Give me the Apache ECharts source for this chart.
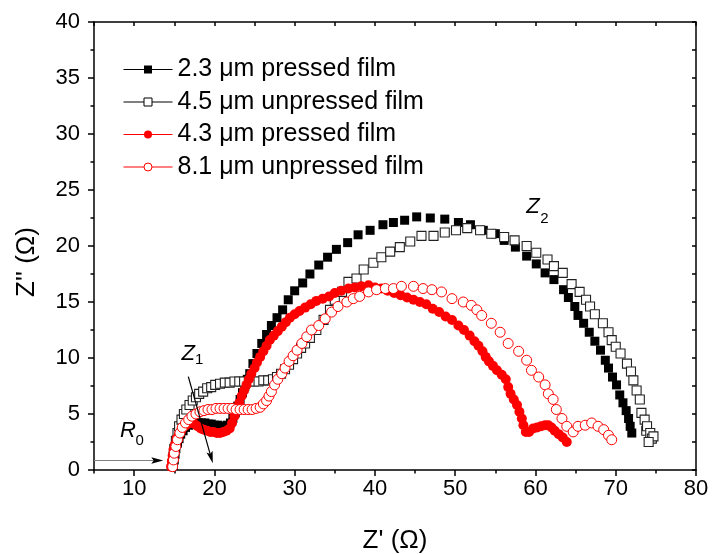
<!DOCTYPE html>
<html><head><meta charset="utf-8">
<script src="https://cdn.jsdelivr.net/npm/echarts@6/dist/echarts.min.js"></script>
<style>html,body{margin:0;padding:0;background:#fff}#c{width:714px;height:554px}</style>
</head><body><div id="c"></div>
<script>
// ---------------- data ----------------
const seriesNames = ['2.3 μm pressed film', '4.5 μm unpressed film', '4.3 μm pressed film', '8.1 μm unpressed film'];

const pressed23 = [[14.9,0.4],[15.0,0.9],[15.1,1.4],[15.2,1.9],[15.4,2.4],[15.6,2.8],[15.8,3.2],[16.1,3.5],[16.4,3.8],[16.8,4.0],[17.2,4.1],[17.6,4.2],[18.0,4.2],[18.4,4.2],[18.8,4.2],[19.2,4.1],[19.6,4.1],[20.0,4.0],[20.4,4.0],[20.8,3.9],[21.2,3.9],[21.6,4.0],[22.0,4.2],[22.3,4.6],[22.6,5.1],[22.9,5.7],[23.2,6.3],[23.5,6.9],[23.8,7.5],[24.1,8.1],[24.4,8.6],[24.8,9.5],[25.3,10.4],[25.9,11.3],[26.5,12.1],[27.1,12.9],[27.8,13.6],[28.5,14.3],[29.2,15.2],[30.0,16.0],[31.0,16.7],[31.9,17.5],[33.0,18.3],[34.1,19.0],[35.2,19.7],[36.6,20.3],[37.9,21.0],[39.4,21.4],[41.0,21.9],[42.3,22.1],[43.7,22.3],[45.2,22.6],[46.9,22.5],[48.7,22.4],[50.4,22.1],[51.9,21.9],[53.5,21.4],[55.0,21.1],[56.1,20.5],[57.5,19.9],[58.9,19.1],[60.1,18.4],[61.2,17.6],[62.3,17.0],[63.5,16.1],[64.1,15.4],[64.9,14.6],[65.3,13.8],[66.0,13.1],[66.7,12.3],[67.4,11.5],[68.1,10.7],[68.7,9.8],[69.1,9.1],[69.6,8.3],[70.1,7.6],[70.5,6.7],[70.9,6.0],[71.3,5.3],[71.6,4.6],[71.8,3.9],[72.0,3.3]];

const unpressed45 = [[14.8,0.5],[14.9,1.2],[15.0,1.9],[15.2,2.6],[15.4,3.3],[15.6,3.9],[15.9,4.5],[16.2,5.0],[16.5,5.4],[16.9,5.8],[17.3,6.2],[17.7,6.5],[18.1,6.8],[18.6,7.0],[19.1,7.3],[19.6,7.4],[20.1,7.6],[20.7,7.7],[21.3,7.8],[21.9,7.8],[22.5,7.9],[23.1,7.9],[23.7,7.9],[24.3,7.9],[24.9,7.9],[25.5,7.9],[26.1,8.0],[26.7,8.0],[27.3,8.1],[27.8,8.3],[28.3,8.6],[28.8,9.0],[29.3,9.4],[29.8,9.9],[30.3,10.4],[30.8,10.9],[31.3,11.3],[31.9,11.8],[32.7,12.5],[33.6,13.4],[34.4,14.3],[35.0,15.2],[35.9,15.9],[36.7,16.8],[37.7,17.1],[38.6,17.9],[39.8,18.5],[40.8,19.0],[41.9,19.5],[43.1,19.9],[44.4,20.4],[45.8,20.9],[47.3,20.9],[48.7,21.2],[50.1,21.4],[51.5,21.6],[53.1,21.4],[54.5,21.1],[56.1,20.8],[57.4,20.5],[58.9,20.0],[60.1,19.4],[61.5,18.8],[62.3,18.2],[63.4,17.6],[64.5,16.6],[65.5,15.9],[66.3,15.2],[66.8,14.6],[67.4,13.9],[68.4,13.1],[69.1,12.3],[69.5,11.6],[70.0,11.0],[70.6,10.4],[71.4,9.5],[71.9,8.8],[72.2,8.0],[72.6,7.1],[73.0,6.3],[73.2,5.1],[73.6,4.5],[73.8,3.5],[73.9,3.9],[74.3,3.3],[74.5,2.8],[74.7,3.0],[74.1,2.5]];

const pressed43 = [[14.6,0.3],[14.7,0.8],[14.8,1.3],[14.9,1.8],[15.1,2.3],[15.3,2.8],[15.6,3.2],[15.9,3.6],[16.3,3.9],[16.7,4.1],[17.1,4.2],[17.5,4.1],[17.9,3.9],[18.3,3.7],[18.7,3.6],[19.1,3.5],[19.5,3.4],[19.9,3.4],[20.3,3.3],[20.7,3.3],[21.1,3.4],[21.5,3.5],[21.9,3.7],[22.2,4.2],[22.5,4.8],[22.8,5.4],[23.1,6.0],[23.4,6.6],[23.7,7.1],[24.0,7.6],[24.3,8.1],[24.6,8.6],[25.0,9.1],[25.3,9.6],[25.7,10.1],[26.1,10.6],[26.5,11.1],[26.9,11.6],[27.4,12.0],[27.9,12.4],[28.4,12.8],[28.9,13.2],[29.4,13.6],[30.0,13.9],[30.6,14.2],[31.3,14.5],[32.0,14.8],[32.7,15.1],[33.5,15.3],[34.3,15.5],[35.0,15.8],[35.8,16.0],[36.7,16.2],[37.5,16.3],[38.3,16.4],[39.2,16.5],[40.0,16.3],[40.8,16.2],[41.6,16.0],[42.4,15.8],[43.2,15.6],[44.0,15.4],[44.8,15.2],[45.6,15.0],[46.4,14.8],[47.2,14.4],[48.0,14.1],[48.8,13.7],[49.6,13.4],[50.4,12.9],[51.1,12.5],[51.8,12.0],[52.4,11.5],[52.9,11.1],[53.4,10.6],[53.8,10.1],[54.2,9.7],[54.7,9.3],[55.2,8.9],[55.8,8.5],[56.3,8.1],[56.6,7.4],[56.9,6.8],[57.3,6.3],[57.7,5.8],[58.0,5.2],[58.3,4.6],[58.5,4.0],[58.8,3.4],[59.2,3.4],[59.7,3.7],[60.2,3.8],[60.7,3.9],[61.2,4.0],[61.6,4.0],[62.0,3.8],[62.4,3.5],[62.9,3.2],[63.4,2.9],[63.9,2.5]];

const unpressed81 = [[14.8,0.3],[14.9,0.9],[15.0,1.5],[15.2,2.1],[15.4,2.7],[15.7,3.3],[16.0,3.8],[16.4,4.2],[16.8,4.5],[17.2,4.8],[17.7,5.0],[18.2,5.2],[18.7,5.3],[19.2,5.4],[19.7,5.4],[20.2,5.5],[20.7,5.5],[21.2,5.5],[21.7,5.5],[22.2,5.5],[22.7,5.4],[23.2,5.4],[23.7,5.4],[24.2,5.4],[24.7,5.4],[25.2,5.5],[25.7,5.6],[26.1,5.9],[26.5,6.2],[26.8,6.6],[27.1,7.0],[27.5,7.6],[27.9,8.1],[28.4,8.6],[28.8,9.1],[29.3,9.7],[29.8,10.2],[30.3,10.7],[30.9,11.3],[31.5,11.9],[32.1,12.5],[33.0,12.9],[33.8,13.5],[34.6,14.1],[35.4,14.6],[36.5,15.0],[37.3,15.3],[38.1,15.5],[39.2,15.9],[40.2,16.1],[41.3,16.2],[42.3,16.2],[43.3,16.4],[44.8,16.4],[46.0,16.2],[47.1,16.1],[48.3,15.9],[49.6,15.3],[51.0,15.0],[52.0,14.7],[52.7,14.3],[53.3,13.8],[54.5,13.1],[55.6,12.3],[56.6,11.3],[57.9,10.6],[58.9,9.8],[59.5,8.9],[60.4,8.3],[61.2,7.6],[61.6,6.8],[62.2,6.3],[62.6,5.4],[63.3,4.6],[63.9,3.9],[64.7,3.4],[65.3,3.9],[66.2,4.0],[67.0,4.2],[67.8,3.9],[68.5,3.6],[69.1,3.1],[69.5,2.7]];

const xTickLabels = [10, 20, 30, 40, 50, 60, 70, 80];
const yTickLabels = [0, 5, 10, 15, 20, 25, 30, 35, 40];

// annotation anchors in data units: [x, y, text, kind]
const annotationTexts = [[59.69, 23.48, 'Z', 'main'], [61.12, 22.41, '2', 'sub'], [16.74, 10.36, 'Z', 'main'], [18.10, 9.82, '1', 'sub'], [9.24, 3.46, 'R', 'main'], [10.69, 2.63, '0', 'sub']];
// arrows in data units: [x0, y0, x1, y1, lineColor]
const annotationArrows = [[5.0, 0.85, 13.63, 0.85, '#808080'], [16.75, 8.33, 19.8, 0.6, '#000000']];

// ---------------- chart ----------------
const FONT = '"Liberation Sans", Arial, Helvetica, sans-serif';
const chart = echarts.init(document.getElementById('c'), null, { renderer: 'canvas' });

const styles = [
  { symbol: 'rect', size: 9, item: { color: '#000', borderWidth: 0 }, legendItem: { color: '#000', borderColor: '#000', borderWidth: 0 }, line: '#000' },
  { symbol: 'rect', size: 9, item: { color: '#fff', borderColor: '#222', borderWidth: 1.1 }, legendItem: { color: '#fff', borderColor: '#000', borderWidth: 1 }, line: '#000' },
  { symbol: 'circle', size: 10, item: { color: '#ff0000', borderWidth: 0 }, legendItem: { color: '#ff0000', borderColor: '#ff0000', borderWidth: 0 }, line: '#ff0000' },
  { symbol: 'circle', size: 10, item: { color: '#fff', borderColor: '#ff0000', borderWidth: 1 }, legendItem: { color: '#fff', borderColor: '#ff0000', borderWidth: 1 }, line: '#ff0000' }
];
const dataSets = [pressed23, unpressed45, pressed43, unpressed81];

const series = dataSets.map((d, i) => ({
  type: 'line',
  name: seriesNames[i],
  data: d,
  xAxisIndex: 0, yAxisIndex: 0,
  symbol: styles[i].symbol,
  symbolSize: styles[i].size,
  showSymbol: true,
  showAllSymbol: true,
  color: styles[i].line,
  itemStyle: styles[i].item,
  lineStyle: { width: 0, color: styles[i].line },
  silent: true,
  animation: false
}));

const axisLineStyle = { color: '#000', width: 1.5 };
const baseX = { type: 'value', gridIndex: 0, min: 5, max: 80, interval: 5, splitLine: { show: false } };
const baseY = { type: 'value', gridIndex: 0, min: 0, max: 40, splitLine: { show: false } };

chart.setOption({
  backgroundColor: '#fff',
  animation: false,
  textStyle: { fontFamily: FONT },
  grid: { left: 94, right: 18, top: 22, bottom: 84, containLabel: false, outerBoundsMode: 'none' },
  legend: {
    orient: 'vertical', left: 123, top: 57, padding: 0,
    itemWidth: 49, itemHeight: 10, itemGap: 7.5,
    selectedMode: false,
    textStyle: { fontFamily: FONT, fontSize: 25, color: '#000', lineHeight: 23 },
    data: seriesNames.map((n, i) => ({
      name: n,
      itemStyle: styles[i].legendItem,
      lineStyle: { color: styles[i].line, width: 1, type: 'solid', opacity: 1 }
    }))
  },
  xAxis: [
    Object.assign({}, baseX, {
      position: 'bottom',
      name: "Z' (Ω)", nameLocation: 'middle', nameGap: 58,
      nameTextStyle: { fontFamily: FONT, fontSize: 26, color: '#000' },
      axisLine: { show: true, onZero: false, lineStyle: axisLineStyle },
      axisTick: { show: true, inside: false, length: 6, lineStyle: { color: '#000', width: 1.5 }, customValues: xTickLabels },
      axisLabel: { show: true, margin: 8, fontFamily: FONT, fontSize: 22, color: '#000', customValues: xTickLabels,
        formatter: v => (v % 10 === 0 ? String(v) : '') }
    }),
    Object.assign({}, baseX, {
      position: 'bottom',
      axisLine: { show: false, onZero: false },
      axisTick: { show: true, inside: false, length: 3.5, lineStyle: { color: '#000', width: 1.5 } },
      axisLabel: { show: false }
    }),
    Object.assign({}, baseX, {
      position: 'top',
      axisLine: { show: true, onZero: false, lineStyle: axisLineStyle },
      axisTick: { show: true, inside: true, length: 4, lineStyle: { color: '#000', width: 1.5 } },
      axisLabel: { show: false }
    })
  ],
  yAxis: [
    Object.assign({}, baseY, {
      position: 'left', interval: 5,
      name: "Z'' (Ω)", nameLocation: 'middle', nameGap: 54,
      nameTextStyle: { fontFamily: FONT, fontSize: 26, color: '#000', padding: [0, 32, 0, 0] },
      axisLine: { show: true, onZero: false, lineStyle: axisLineStyle },
      axisTick: { show: true, inside: false, length: 6, lineStyle: { color: '#000', width: 1.5 } },
      axisLabel: { show: true, margin: 14, fontFamily: FONT, fontSize: 22, color: '#000', customValues: yTickLabels }
    }),
    Object.assign({}, baseY, {
      position: 'left', interval: 2.5,
      axisLine: { show: false, onZero: false },
      axisTick: { show: true, inside: false, length: 3.5, lineStyle: { color: '#000', width: 1.5 } },
      axisLabel: { show: false }
    }),
    Object.assign({}, baseY, {
      position: 'right', interval: 2.5,
      axisLine: { show: true, onZero: false, lineStyle: axisLineStyle },
      axisTick: { show: true, inside: true, length: 4, lineStyle: { color: '#000', width: 1.5 } },
      axisLabel: { show: false }
    })
  ],
  series: series
});

// ---------------- annotations (positioned from data units) ----------------
function px(x, y) { return chart.convertToPixel({ gridIndex: 0 }, [x, y]); }
const graphics = [];
annotationTexts.forEach(t => {
  const p = px(t[0], t[1]);
  const isMain = t[3] === 'main';
  graphics.push({
    type: 'text', x: p[0], y: p[1], silent: true, z: 100,
    style: {
      text: t[2],
      font: (isMain ? 'italic 22px ' : '15px ') + FONT,
      fill: '#000', align: 'center', verticalAlign: 'middle'
    }
  });
});
annotationArrows.forEach(a => {
  const p0 = px(a[0], a[1]);
  const p1 = px(a[2], a[3]);
  const dx = p1[0] - p0[0], dy = p1[1] - p0[1];
  const len = Math.sqrt(dx * dx + dy * dy);
  const ux = dx / len, uy = dy / len;
  const nx = -uy, ny = ux;
  const L = 12, W = 3.2;
  const base = [p1[0] - ux * L, p1[1] - uy * L];
  const notch = [p1[0] - ux * L * 0.8, p1[1] - uy * L * 0.8];
  graphics.push({
    type: 'line', silent: true, z: 100,
    shape: { x1: p0[0], y1: p0[1], x2: notch[0], y2: notch[1] },
    style: { stroke: a[4], lineWidth: 1.2 }
  });
  graphics.push({
    type: 'polygon', silent: true, z: 101,
    shape: { points: [p1, [base[0] + nx * W, base[1] + ny * W], notch, [base[0] - nx * W, base[1] - ny * W]] },
    style: { fill: '#000' }
  });
});
chart.setOption({ graphic: graphics });
</script>
</body></html>
